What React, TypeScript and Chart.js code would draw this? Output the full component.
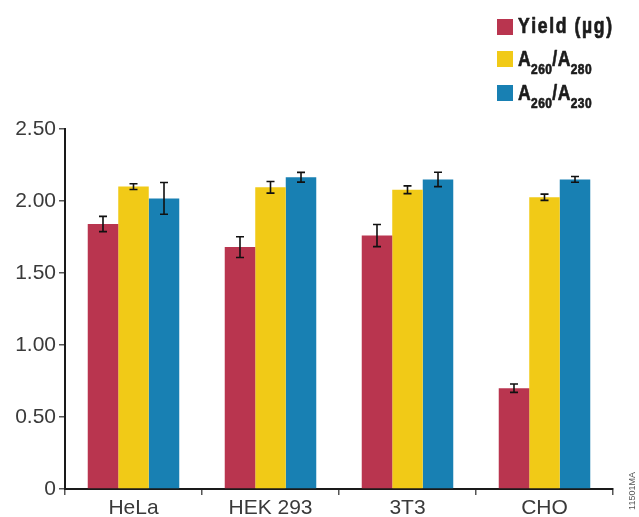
import { useEffect, useRef } from "react";
import { Chart, registerables } from "chart.js";

Chart.register(...registerables);

// Cell lines on the category axis
const cellLines = ["HeLa", "HEK 293", "3T3", "CHO"];

// Yield (µg) with standard deviation
const yieldValues = [1.84, 1.68, 1.76, 0.7];
const yieldErrors = [0.053, 0.072, 0.077, 0.029];

// A260/A280 purity ratio
const ratio280Values = [2.1, 2.095, 2.078, 2.026];
const ratio280Errors = [0.02, 0.04, 0.027, 0.022];

// A260/A230 purity ratio
const ratio230Values = [2.018, 2.165, 2.15, 2.15];
const ratio230Errors = [0.11, 0.034, 0.05, 0.02];

const yMin = 0;
const yMax = 2.5;
const yStep = 0.5;

const seriesColors = ["#B9354F", "#F1CA17", "#1880B3"];
const figureCode = "11501MA";

const tickFont = '"Liberation Sans", Arial, sans-serif';
const legendFont = '"Liberation Sans", Arial, sans-serif';

// Legend entries: pieces of text, with subscripts flagged
const legendEntries: { text: string; sub: boolean }[][] = [
  [{ text: "Yield (µg)", sub: false }],
  [
    { text: "A", sub: false },
    { text: "260", sub: true },
    { text: "/A", sub: false },
    { text: "280", sub: true },
  ],
  [
    { text: "A", sub: false },
    { text: "260", sub: true },
    { text: "/A", sub: false },
    { text: "230", sub: true },
  ],
];

const errorSets = [yieldErrors, ratio280Errors, ratio230Errors];

const errorBarPlugin = {
  id: "errorBars",
  afterDatasetsDraw(chart: any) {
    const ctx = chart.ctx as CanvasRenderingContext2D;
    const yScale = chart.scales.y;
    ctx.save();
    ctx.strokeStyle = "#111";
    ctx.lineWidth = 1.6;
    chart.data.datasets.forEach((ds: any, di: number) => {
      const meta = chart.getDatasetMeta(di);
      meta.data.forEach((bar: any, i: number) => {
        const v = ds.data[i] as number;
        const e = errorSets[di][i];
        const x = bar.x;
        const yTop = yScale.getPixelForValue(v + e);
        const yBot = yScale.getPixelForValue(v - e);
        const cap = 4;
        ctx.beginPath();
        ctx.moveTo(x, yTop);
        ctx.lineTo(x, yBot);
        ctx.moveTo(x - cap, yTop);
        ctx.lineTo(x + cap, yTop);
        ctx.moveTo(x - cap, yBot);
        ctx.lineTo(x + cap, yBot);
        ctx.stroke();
      });
    });
    ctx.restore();
  },
};

// Condensed heavy legend with subscripts, drawn at a horizontal squeeze
const legendPlugin = {
  id: "subscriptLegend",
  afterDraw(chart: any) {
    const ctx = chart.ctx as CanvasRenderingContext2D;
    ctx.save();
    const boxX = 497;
    const textX = 518;
    const squeeze = 0.8;
    const rows = [
      { boxTop: 19, base: 33, width: 95 },
      { boxTop: 51, base: 66, width: 74 },
      { boxTop: 85, base: 100, width: 74 },
    ];
    const mainFont = `bold 22px ${legendFont}`;
    const subFont = `bold 15px ${legendFont}`;
    legendEntries.forEach((parts, i) => {
      const r = rows[i];
      ctx.fillStyle = seriesColors[i];
      ctx.fillRect(boxX, r.boxTop, 16, 16);

      // natural width and character count of the row
      let natural = 0;
      let chars = 0;
      parts.forEach((p) => {
        ctx.font = p.sub ? subFont : mainFont;
        natural += ctx.measureText(p.text).width;
        chars += p.text.length;
      });
      const spacing = Math.max(0, (r.width / squeeze - natural) / chars);

      ctx.save();
      ctx.translate(textX, 0);
      ctx.scale(squeeze, 1);
      ctx.fillStyle = "#1c1c1c";
      ctx.strokeStyle = "#1c1c1c";
      ctx.lineWidth = 0.7;
      ctx.lineJoin = "round";
      ctx.textBaseline = "alphabetic";
      ctx.textAlign = "left";
      let x = 0;
      parts.forEach((p) => {
        ctx.font = p.sub ? subFont : mainFont;
        for (const ch of p.text) {
          const y = p.sub ? r.base + 8 : r.base;
          ctx.fillText(ch, x, y);
          ctx.strokeText(ch, x, y);
          x += ctx.measureText(ch).width + spacing;
        }
      });
      ctx.restore();
    });

    // figure code along the right edge
    ctx.translate(633, 491);
    ctx.rotate(-Math.PI / 2);
    ctx.font = `9px ${tickFont}`;
    ctx.fillStyle = "#555";
    ctx.textAlign = "center";
    ctx.textBaseline = "middle";
    ctx.fillText(figureCode, 0, 0);
    ctx.restore();
  },
};

export default function App() {
  const canvasRef = useRef<HTMLCanvasElement | null>(null);

  useEffect(() => {
    const canvas = canvasRef.current;
    if (!canvas) return;
    const datasets = [yieldValues, ratio280Values, ratio230Values].map((vals, i) => ({
      label: ["Yield (µg)", "A260/A280", "A260/A230"][i],
      data: vals,
      backgroundColor: seriesColors[i],
      borderWidth: 0,
      barPercentage: 1,
      categoryPercentage: 0.668,
    }));

    const chart = new Chart(canvas, {
      type: "bar",
      data: { labels: cellLines, datasets },
      options: {
        animation: false,
        responsive: false,
        maintainAspectRatio: false,
        layout: { padding: { top: 129, right: 26, left: 0, bottom: 0 } },
        plugins: {
          legend: { display: false },
          tooltip: { enabled: false },
        },
        scales: {
          x: {
            offset: true,
            grid: {
              offset: true,
              drawOnChartArea: false,
              drawTicks: true,
              tickLength: 6,
              color: "#555",
              lineWidth: 1.5,
            },
            border: { display: true, color: "#1a1a1a", width: 2 },
            ticks: {
              color: "#3a3a3a",
              font: { family: tickFont, size: 21 },
              padding: 1,
              maxRotation: 0,
              autoSkip: false,
            },
            afterFit(scale: any) {
              scale.height = 28;
            },
          },
          y: {
            min: yMin,
            max: yMax,
            grid: {
              drawOnChartArea: false,
              drawTicks: true,
              tickLength: 6,
              color: "#555",
              lineWidth: 1.5,
            },
            border: { display: true, color: "#1a1a1a", width: 2 },
            ticks: {
              stepSize: yStep,
              color: "#3a3a3a",
              font: { family: tickFont, size: 21 },
              padding: 3,
              callback: (v: any) => (Number(v) === 0 ? "0" : Number(v).toFixed(2)),
            },
            afterFit(scale: any) {
              scale.width = 65;
            },
          },
        },
      },
      plugins: [errorBarPlugin, legendPlugin],
    });
    return () => chart.destroy();
  }, []);

  return (
    <div style={{ position: "fixed", left: 0, top: 0, width: 639, height: 517, background: "#fff" }}>
      <canvas ref={canvasRef} width={639} height={517} style={{ width: 639, height: 517, display: "block" }} />
    </div>
  );
}
